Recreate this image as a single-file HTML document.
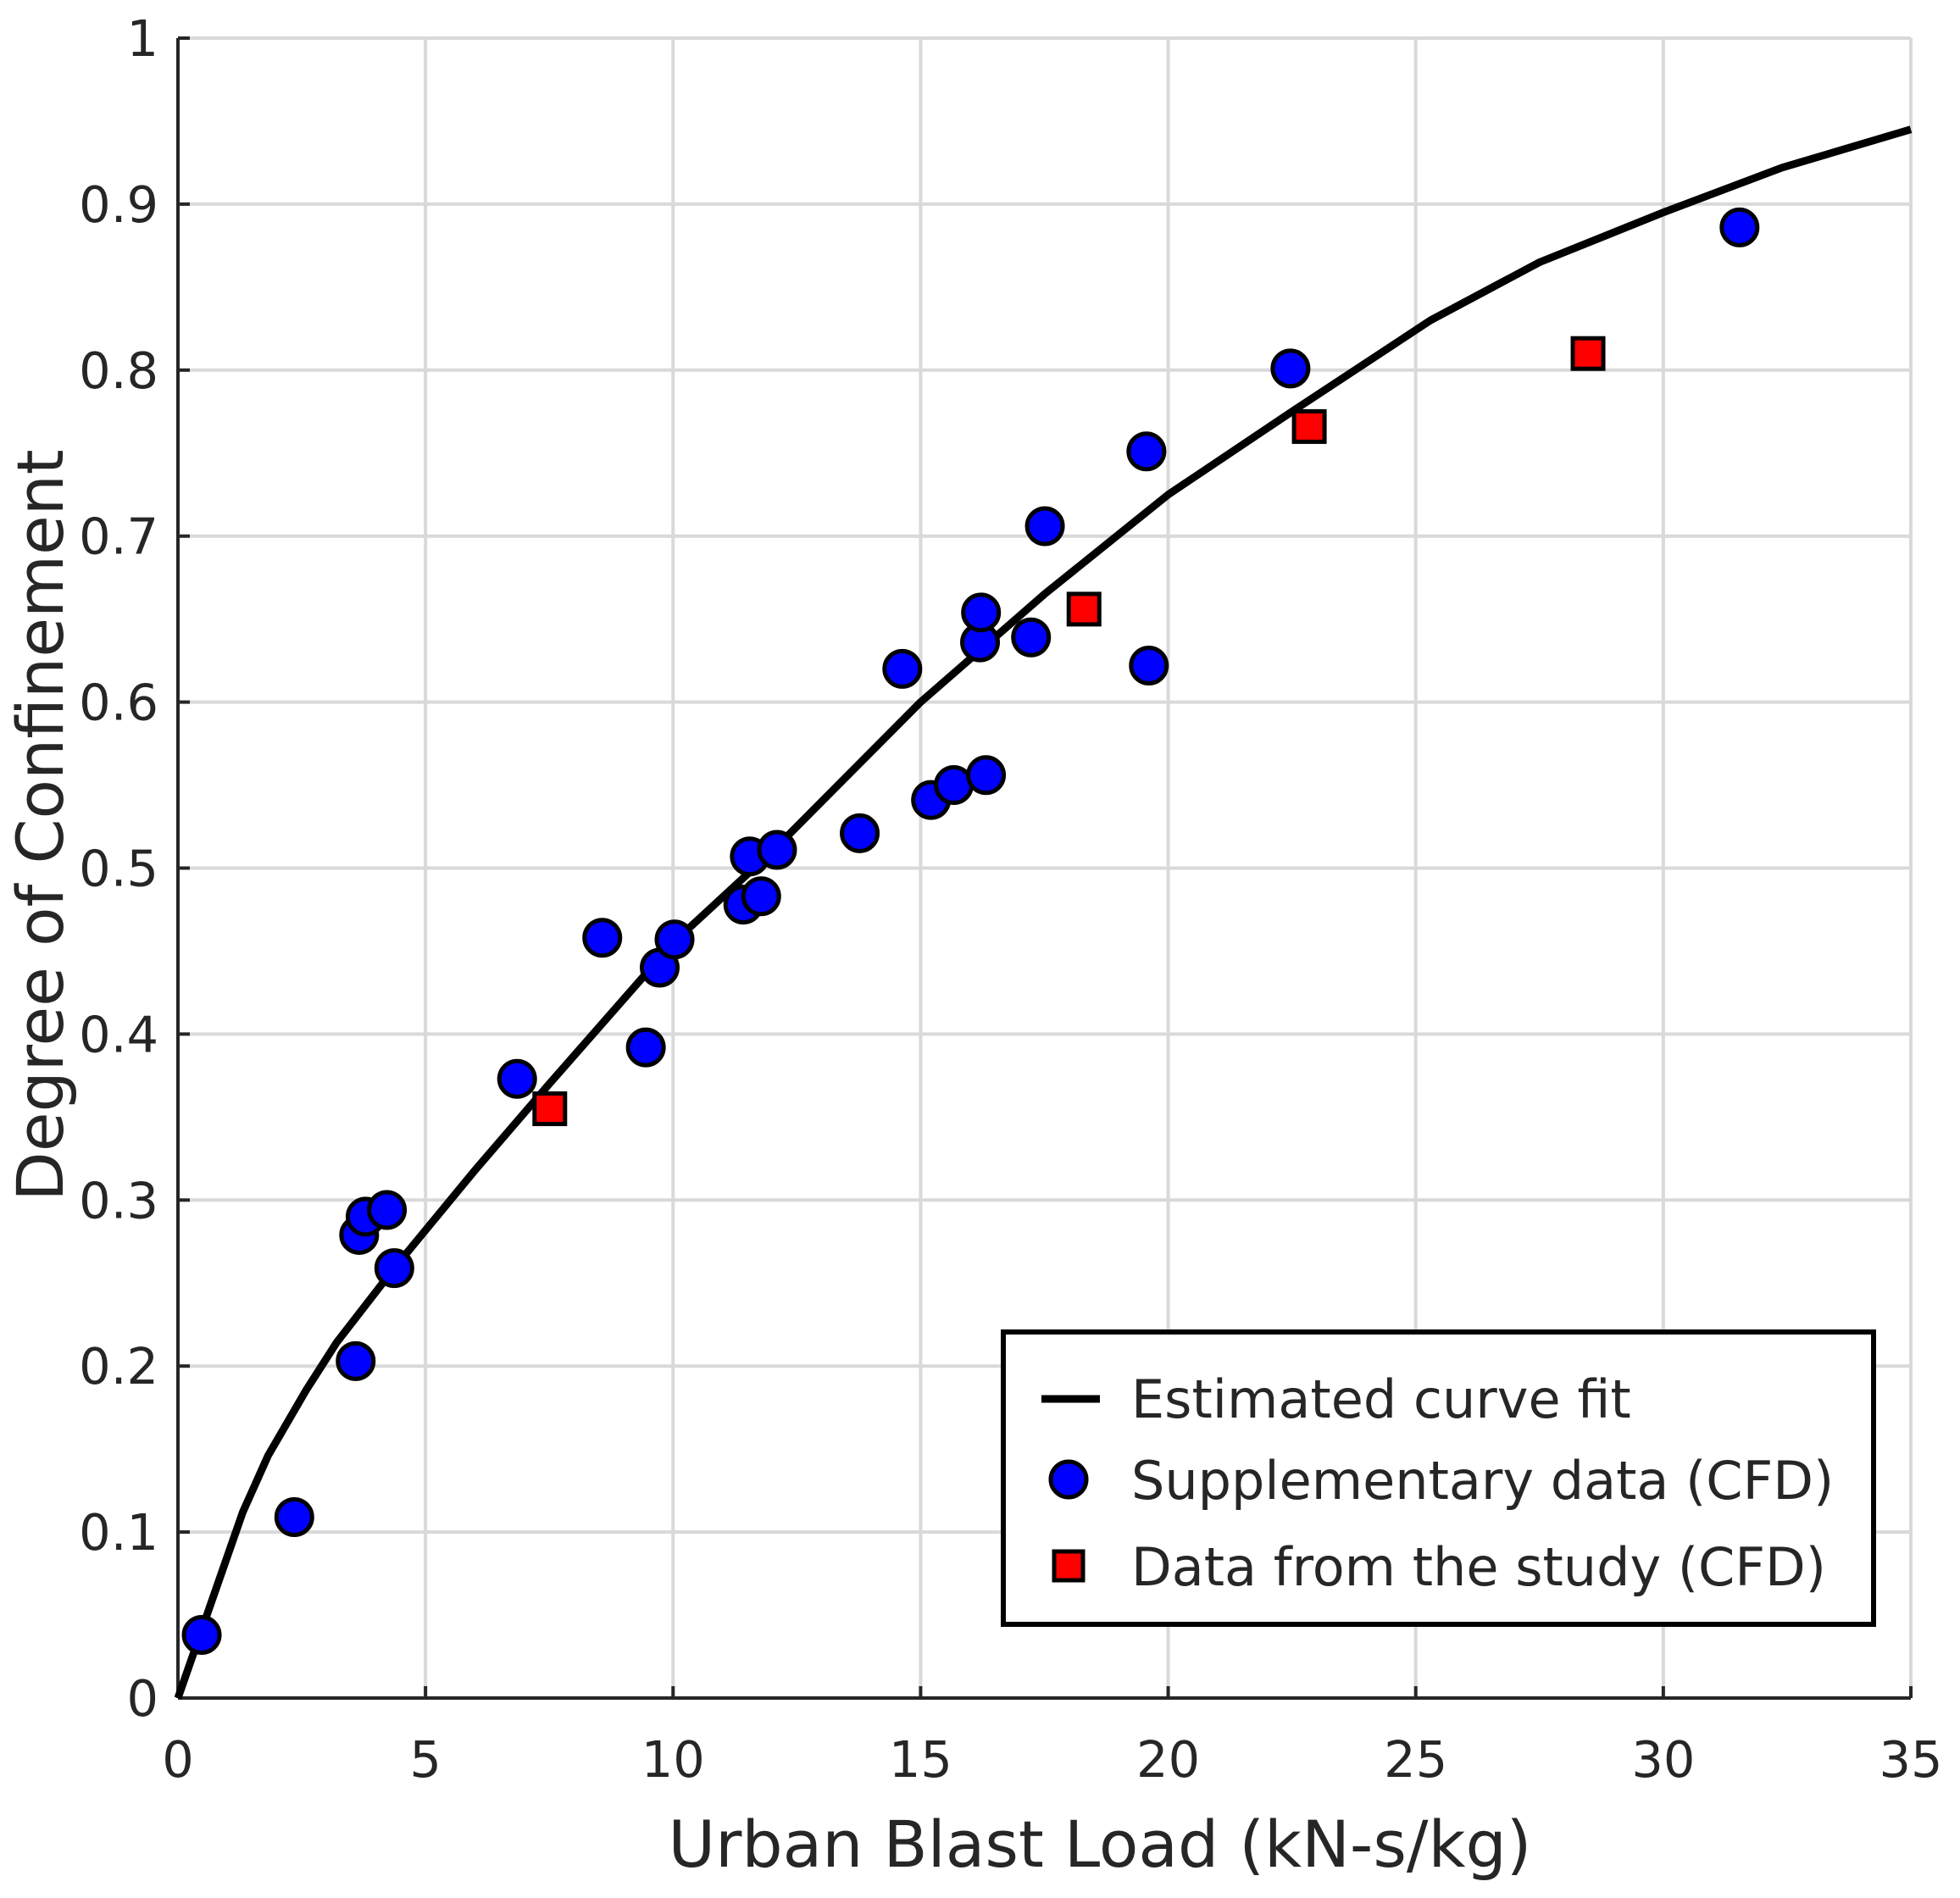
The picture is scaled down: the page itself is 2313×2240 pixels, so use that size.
<!DOCTYPE html>
<html><head><meta charset="utf-8"><style>
html,body{margin:0;padding:0;background:#fff}
svg text{font-family:"DejaVu Sans","Liberation Sans",sans-serif;fill:#262626}
</style></head><body>
<svg id="chart" width="2313" height="2235" viewBox="0 0 2313 2235" xmlns="http://www.w3.org/2000/svg">
<g id="grid"></g>
<g id="axes"></g>
<g id="series"></g>
<text x="1298" y="2203" font-size="76" text-anchor="middle">Urban Blast Load (kN-s/kg)</text>
<text transform="translate(74,974) rotate(-90)" font-size="76" text-anchor="middle">Degree of Confinement</text>
<g>
<rect x="1184" y="1572" width="1027" height="345" fill="#fff" stroke="#000" stroke-width="6"/>
<line x1="1229" y1="1651" x2="1298" y2="1651" stroke="#000" stroke-width="9"/>
<text x="1335" y="1673" font-size="62">Estimated curve fit</text>
<circle cx="1261" cy="1746" r="21" fill="#0000ff" stroke="#000" stroke-width="5"/>
<text x="1335" y="1769" font-size="62">Supplementary data (CFD)</text>
<rect x="1244" y="1831" width="34" height="34" fill="#ff0000" stroke="#000" stroke-width="5"/>
<text x="1335" y="1871" font-size="62">Data from the study (CFD)</text>
</g>
</svg>
<script>
const xTicks=[0,5,10,15,20,25,30,35];
const yTicks=[0,0.1,0.2,0.3,0.4,0.5,0.6,0.7,0.8,0.9,1];
const yTickLabels=["0","0.1","0.2","0.3","0.4","0.5","0.6","0.7","0.8","0.9","1"];
const curveX=[0,1.31,1.82,2.58,3.2,4.37,6,7.5,10,12,15,17.5,20,22.5,25.3,27.5,30,32.4,35];
const curveY=[0,0.112,0.146,0.185,0.214,0.259,0.318,0.37,0.455,0.51,0.6,0.665,0.725,0.775,0.83,0.865,0.895,0.922,0.945];
const blueX=[0.48,2.35,3.59,3.66,3.79,4.22,4.37,6.85,8.57,9.45,9.73,10.03,11.42,11.55,11.78,12.1,13.77,14.63,15.21,15.67,16.2,16.22,16.32,17.23,17.51,19.56,19.61,22.47,31.54];
const blueY=[0.038,0.109,0.203,0.279,0.29,0.294,0.259,0.373,0.458,0.392,0.44,0.457,0.478,0.507,0.483,0.511,0.521,0.62,0.541,0.55,0.636,0.654,0.556,0.639,0.706,0.751,0.622,0.801,0.886];
const redX=[7.51,18.3,22.85,28.48];
const redY=[0.355,0.656,0.766,0.81];

const NS="http://www.w3.org/2000/svg";
const X0=210,X1=2255,Y0=2004,Y1=45;
function sx(v){return X0+(v-0)/(35-0)*(X1-X0);}
function sy(v){return Y0-(v-0)/(1-0)*(Y0-Y1);}
function mk(tag,attrs,parent){const e=document.createElementNS(NS,tag);for(const k in attrs)e.setAttribute(k,attrs[k]);parent.appendChild(e);return e;}
const grid=document.getElementById('grid'),axes=document.getElementById('axes'),series=document.getElementById('series');
xTicks.forEach((t,i)=>{
  const g=mk('line',{x1:sx(t),x2:sx(t),y1:Y1,y2:Y0,stroke:'#d9d9d9','stroke-width':4},grid);
  
  
  const tk=mk('line',{x1:sx(t),x2:sx(t),y1:Y0,y2:Y0-14,stroke:'#262626','stroke-width':4},axes);
  
  
  const tx=mk('text',{x:sx(t),y:2097,'font-size':59,'text-anchor':'middle'},axes);
  tx.textContent=String(t);
  
  
});
yTicks.forEach((t,i)=>{
  const g=mk('line',{x1:X0,x2:X1,y1:sy(t),y2:sy(t),stroke:'#d9d9d9','stroke-width':4},grid);
  
  
  const tk=mk('line',{x1:X0,x2:X0+14,y1:sy(t),y2:sy(t),stroke:'#262626','stroke-width':4},axes);
  
  
  const tx=mk('text',{x:187,y:sy(t)+21,'font-size':59,'text-anchor':'end'},axes);
  tx.textContent=yTickLabels[i];
  
  
});
const xa=mk('line',{x1:X0,x2:X1,y1:Y0,y2:Y0,stroke:'#262626','stroke-width':4},axes);


const ya=mk('line',{x1:X0,x2:X0,y1:Y0,y2:Y1,stroke:'#262626','stroke-width':4},axes);


const pts=curveX.map((v,i)=>sx(v).toFixed(1)+','+sy(curveY[i]).toFixed(1)).join(' ');
const cl=mk('polyline',{points:pts,fill:'none',stroke:'#000','stroke-width':9,'stroke-linejoin':'round'},series);


blueX.forEach((v,i)=>{
  const c=mk('circle',{cx:sx(v),cy:sy(blueY[i]),r:21,fill:'#0000ff',stroke:'#000','stroke-width':5},series);
  
  
});
redX.forEach((v,i)=>{
  const r=mk('rect',{x:sx(v)-18,y:sy(redY[i])-18,width:36,height:36,fill:'#ff0000',stroke:'#000','stroke-width':5},series);
  
  
});
</script>
</body></html>
